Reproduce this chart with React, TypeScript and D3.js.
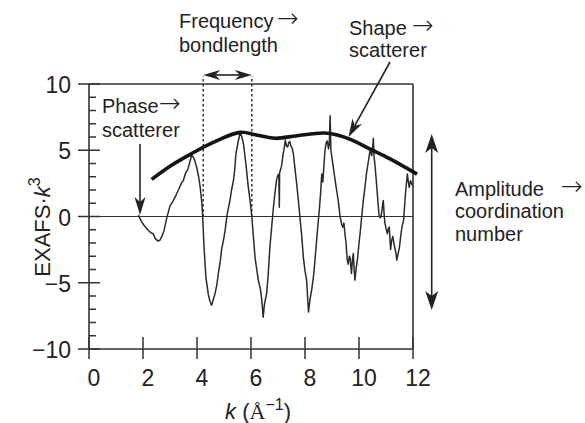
import React from "react";
import * as d3 from "d3";

// EXAFS oscillation, k-weighted (k in Å^-1)
const K = [
  1.83, 1.95, 2.05, 2.2, 2.3, 2.38, 2.45, 2.55, 2.62, 2.7, 2.78, 2.88, 3.0, 3.12, 3.22, 3.31, 3.42, 3.5, 3.58, 3.65,
  3.72, 3.8, 3.86, 3.92, 3.99, 4.06, 4.12, 4.18, 4.21, 4.26, 4.33, 4.42, 4.48, 4.54, 4.6, 4.67, 4.74, 4.79, 4.86, 4.91,
  4.98, 5.04, 5.12, 5.22, 5.28, 5.35, 5.4, 5.44, 5.53, 5.6, 5.66, 5.72, 5.81, 5.9, 5.96, 6.03, 6.1, 6.15, 6.27, 6.35,
  6.4, 6.45, 6.5, 6.58, 6.64, 6.7, 6.77, 6.83, 6.9, 6.95, 6.99, 7.03, 7.05, 7.06, 7.13, 7.19, 7.24, 7.27, 7.32, 7.36,
  7.4, 7.44, 7.48, 7.52, 7.57, 7.63, 7.69, 7.75, 7.81, 7.88, 7.94, 8.0, 8.06, 8.1, 8.13, 8.19, 8.25, 8.31, 8.37, 8.43,
  8.48, 8.53, 8.58, 8.62, 8.66, 8.7, 8.74, 8.79, 8.83, 8.87, 8.9, 8.93, 8.96, 9.0, 9.05, 9.11, 9.17, 9.23, 9.3, 9.36,
  9.4, 9.44, 9.48, 9.52, 9.56, 9.6, 9.64, 9.67, 9.72, 9.76, 9.79, 9.82, 9.85, 9.9, 9.94, 10.0, 10.04, 10.1, 10.16, 10.22,
  10.28, 10.35, 10.41, 10.47, 10.51, 10.53, 10.56, 10.6, 10.64, 10.68, 10.72, 10.75, 10.8, 10.84, 10.88, 10.9, 10.93, 10.96, 11.0, 11.05,
  11.09, 11.12, 11.15, 11.17, 11.21, 11.25, 11.29, 11.33, 11.37, 11.4, 11.44, 11.5, 11.55, 11.59, 11.65, 11.72, 11.79, 11.83, 11.86, 11.91,
  11.95, 11.99,
];
const CHI = [
  0.1, -0.4, -0.7, -1.05, -1.25, -1.3, -1.65, -1.85, -1.8, -1.5, -1.05, -0.1, 0.8, 1.2, 1.6, 2.0, 2.5, 2.75, 3.3, 3.5,
  4.0, 4.6, 4.5, 4.2, 3.7, 3.0, 2.2, 1.0, 0.0, -2.3, -4.6, -5.9, -6.4, -6.7, -6.3, -5.8, -5.1, -4.3, -3.4, -2.5,
  -1.8, -1.06, 0.2, 1.2, 2.0, 2.7, 3.6, 4.7, 5.7, 6.35, 6.0, 5.5, 4.0, 2.2, 1.3, 0.0, -1.8, -3.1, -4.8, -5.5,
  -6.3, -7.6, -6.6, -5.8, -4.3, -2.3, -0.7, 0.7, 2.0, 2.8, 3.1, 3.2, 0.7, 3.3, 3.8, 4.7, 5.3, 5.75, 5.3, 5.25,
  5.6, 5.65, 5.3, 5.2, 4.7, 3.6, 2.5, 1.3, 0.0, -1.5, -3.1, -4.1, -4.8, -6.2, -7.2, -6.2, -5.5, -4.6, -3.3, -1.8,
  -0.6, 0.5, 1.8, 3.2, 2.6, 3.8, 5.0, 5.6, 5.7, 5.1, 5.4, 7.6, 5.0, 4.4, 3.7, 2.8, 2.0, 1.2, 0.0, -0.6,
  -0.8, -0.5, -1.3, -2.0, -3.2, -3.6, -3.0, -3.1, -4.3, -3.2, -2.8, -4.0, -4.8, -3.8, -3.3, -2.0, -1.3, 0.0, 1.2, 2.2,
  3.3, 4.2, 5.0, 4.6, 5.2, 5.9, 4.5, 3.7, 2.7, 1.7, 0.6, 0.0, -0.1, 0.3, 1.0, 1.2, 0.2, -0.5, -0.9, -1.3,
  -0.9, -0.8, -1.8, -2.5, -1.8, -1.5, -2.0, -2.4, -2.8, -3.3, -2.9, -2.3, -1.4, -0.8, -0.3, 1.7, 3.2, 2.6, 2.2, 2.7,
  2.5, 2.3,
];

// Amplitude envelope
const ENV_K = [2.32, 3.0, 3.8, 4.6, 5.6, 6.2, 6.9, 7.7, 8.7, 9.2, 9.7, 10.4, 11.15, 12.15];
const ENV_Y = [2.8, 3.8, 4.75, 5.6, 6.35, 6.15, 5.9, 6.1, 6.3, 6.15, 5.8, 5.1, 4.35, 3.2];

// One oscillation period, marked between two zero crossings
const FREQ_MARKS = [4.23, 6.03];

const X_TICKS = [0, 2, 4, 6, 8, 10, 12];
const Y_TICKS = [-10, -5, 0, 5, 10];
const Y_MINOR = d3.range(-10, 11, 1);

const W = 585;
const H = 423;
const FONT = "'Liberation Sans', Arial, Helvetica, sans-serif";
const ARROW_FONT = "'DejaVu Sans', sans-serif";
const INK = "#222";

const x = d3.scaleLinear().domain([0, 12]).range([89, 413]);
const y = d3.scaleLinear().domain([-10, 10]).range([349, 84]);

const fmt = (v: number) => (v < 0 ? "\u2212" + Math.abs(v) : String(v));

// Barbed, filled arrowhead pointing along `angle` with its tip at (tx, ty)
function arrowHead(tx: number, ty: number, angle: number, len = 18, half = 6, notch = 5) {
  const ux = Math.cos(angle);
  const uy = Math.sin(angle);
  const px = -uy;
  const py = ux;
  const bx = tx - ux * len;
  const by = ty - uy * len;
  const nx = tx - ux * (len - notch);
  const ny = ty - uy * (len - notch);
  return `M${tx},${ty}L${bx + px * half},${by + py * half}L${nx},${ny}L${bx - px * half},${by - py * half}Z`;
}

function Arrow({ x1, y1, x2, y2, both = false, len = 18, half = 6 }: any) {
  const a = Math.atan2(y2 - y1, x2 - x1);
  const inset = len - 5;
  const sx = both ? x1 + Math.cos(a) * inset : x1;
  const sy = both ? y1 + Math.sin(a) * inset : y1;
  const ex = x2 - Math.cos(a) * inset;
  const ey = y2 - Math.sin(a) * inset;
  return (
    <g>
      <line x1={sx} y1={sy} x2={ex} y2={ey} stroke={INK} strokeWidth={1.6} />
      <path d={arrowHead(x2, y2, a, len, half)} fill={INK} />
      {both && <path d={arrowHead(x1, y1, a + Math.PI, len, half)} fill={INK} />}
    </g>
  );
}

function RightArrow({ x: ax }: { x: number }) {
  return (
    <tspan x={ax} fontFamily={ARROW_FONT} fontSize={26} fontWeight={200} dy={-1}>
      →
    </tspan>
  );
}

export default function App() {
  const pts = K.map((k, i) => [k, CHI[i]] as [number, number]);
  const env = ENV_K.map((k, i) => [k, ENV_Y[i]] as [number, number]);
  const line = d3
    .line<[number, number]>()
    .x((d) => x(d[0]))
    .y((d) => y(d[1]));
  const envLine = d3
    .line<[number, number]>()
    .x((d) => x(d[0]))
    .y((d) => y(d[1]))
    .curve(d3.curveCatmullRom.alpha(0.5));

  const [x0, x1] = x.range();
  const [yb, yt] = y.range();

  return (
    <div style={{ position: "absolute", left: 0, top: 0 }}>
      <svg width={W} height={H} style={{ display: "block", background: "#fff" }} fontFamily={FONT}>
        {/* frame */}
        <g stroke="#333" strokeWidth={1.6} fill="none">
          <line x1={x0} y1={yt} x2={x1} y2={yt} />
          <line x1={x1} y1={yt} x2={x1} y2={yb} />
          <line x1={x0} y1={yt} x2={x0} y2={yb} />
          <line x1={x0} y1={yb} x2={x1} y2={yb} />
        </g>
        <line x1={x0} y1={y(0)} x2={x1} y2={y(0)} stroke="#333" strokeWidth={1.2} />

        {/* y ticks */}
        <g stroke="#333" strokeWidth={1.5}>
          {Y_MINOR.filter((v) => !Y_TICKS.includes(v)).map((v) => (
            <line key={"m" + v} x1={x0} y1={y(v)} x2={x0 + 7} y2={y(v)} />
          ))}
          {Y_TICKS.map((v) => (
            <line key={"M" + v} x1={x0 - 11} y1={y(v)} x2={x0 + 11} y2={y(v)} />
          ))}
        </g>
        <g fontSize={23} fill={INK} textAnchor="end">
          {Y_TICKS.map((v) => (
            <text key={v} x={71} y={y(v) + 9}>
              {fmt(v)}
            </text>
          ))}
        </g>

        {/* x ticks */}
        <g stroke="#333" strokeWidth={1.5}>
          {X_TICKS.map((v) => (
            <line key={v} x1={x(v)} y1={yb - 12} x2={x(v)} y2={yb + 10} />
          ))}
        </g>
        <g fontSize={23} fill={INK} textAnchor="middle">
          {X_TICKS.map((v) => (
            <text key={v} x={x(v) + 5} y={386}>
              {fmt(v)}
            </text>
          ))}
        </g>

        {/* axis titles */}
        <text x={258} y={419} fontSize={22} fill={INK} textAnchor="middle">
          <tspan fontStyle="italic">k</tspan>
          <tspan> (</tspan>
          <tspan fontFamily="'Liberation Serif', 'Times New Roman', serif">Å</tspan>
          <tspan fontSize={16} dy={-9}>{"\u22121"}</tspan>
          <tspan dy={9}>)</tspan>
        </text>
        <text transform="translate(49.5,227) rotate(-90)" fontSize={22} fill={INK} textAnchor="middle">
          <tspan>EXAFS·</tspan>
          <tspan fontStyle="italic">k</tspan>
          <tspan fontSize={16} dy={-10}>3</tspan>
        </text>

        {/* frequency markers */}
        <g stroke="#333" strokeWidth={1.5} strokeDasharray="2.5,2.5">
          {FREQ_MARKS.map((k) => (
            <line key={k} x1={x(k)} y1={y(0)} x2={x(k)} y2={76} />
          ))}
        </g>
        <Arrow x1={x(FREQ_MARKS[0])} y1={75} x2={x(FREQ_MARKS[1])} y2={75} both len={17} half={5} />

        {/* data */}
        <path d={line(pts) || ""} fill="none" stroke="#2a2a2a" strokeWidth={1.5} strokeLinejoin="round" />
        <path d={envLine(env) || ""} fill="none" stroke="#141414" strokeWidth={3.6} />

        {/* annotations */}
        <g fontSize={20} fill={INK}>
          <text x={179} y={28}>
            Frequency
            <RightArrow x={277} />
          </text>
          <text x={179} y={52}>bondlength</text>
          <text x={349} y={35}>
            Shape
            <RightArrow x={412} />
          </text>
          <text x={349} y={57}>scatterer</text>
          <text x={102} y={113}>
            Phase
            <RightArrow x={159} />
          </text>
          <text x={102} y={137}>scatterer</text>
          <text x={455} y={196}>
            Amplitude
            <RightArrow x={561} />
          </text>
          <text x={455} y={218}>coordination</text>
          <text x={455} y={241}>number</text>
        </g>

        <Arrow x1={140} y1={144} x2={140} y2={215} len={18} half={5.5} />
        <Arrow x1={390} y1={62} x2={348.5} y2={137} len={18} half={5.5} />
        <Arrow x1={431.7} y1={134} x2={431.7} y2={310} both len={19} half={6.5} />
      </svg>
    </div>
  );
}
